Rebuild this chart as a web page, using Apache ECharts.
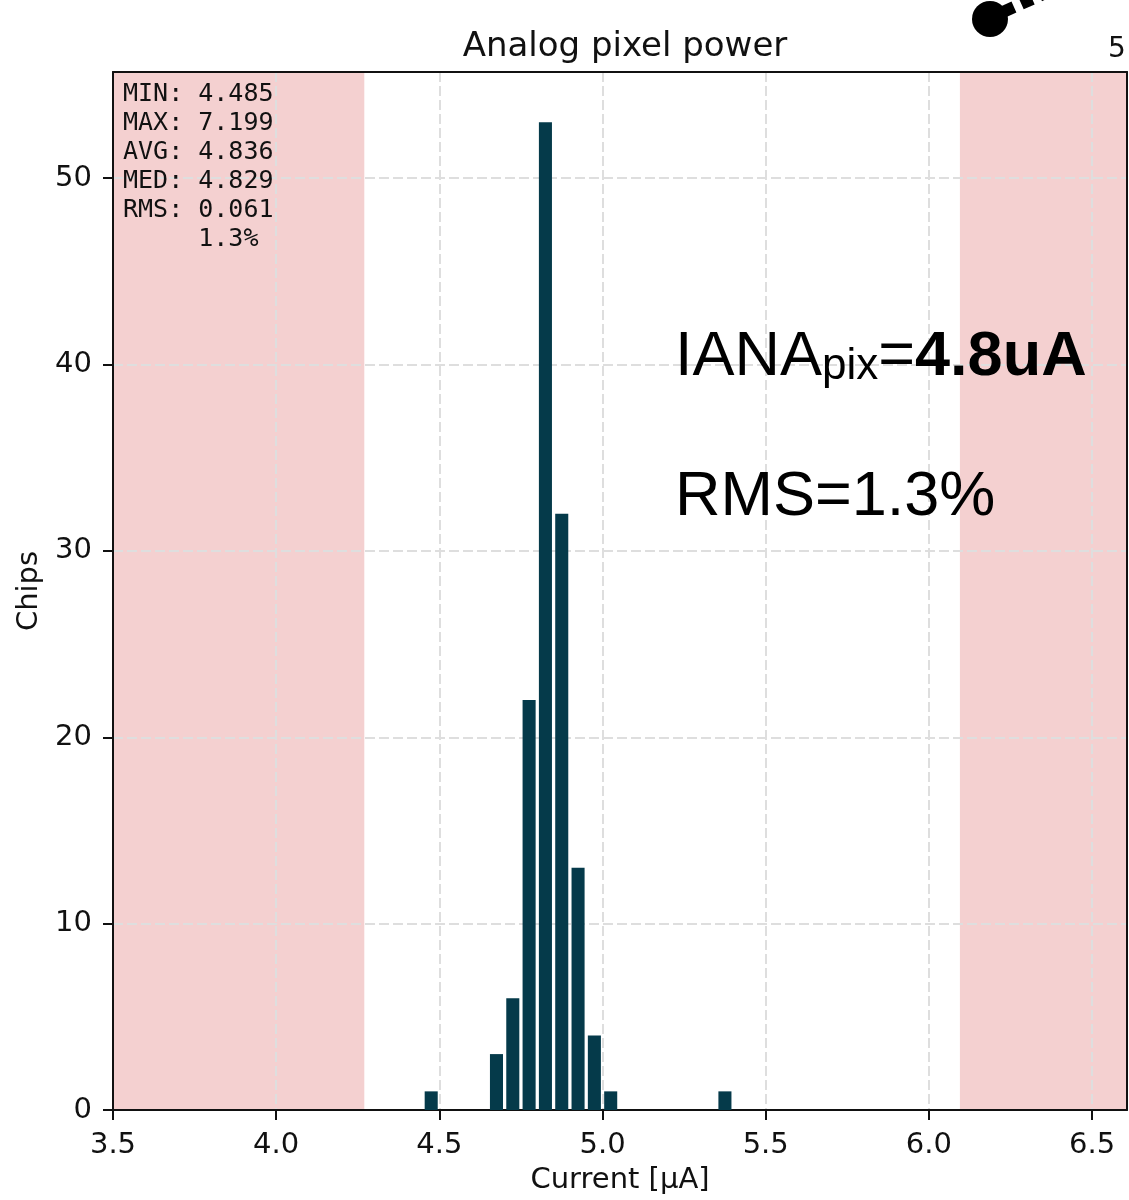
<!DOCTYPE html>
<html>
<head>
<meta charset="utf-8">
<script src="https://cdn.jsdelivr.net/npm/echarts@6/dist/echarts.min.js"></script>
<style>
	html, body { margin: 0; padding: 0; background: #fff; }
	#chart { width: 1129px; height: 1200px; }
</style>
</head>
<body>
<div id="chart"></div>
<script>
	// histogram bins (bin centre, chips)
	var binCenters = [4.475, 4.675, 4.725, 4.775, 4.825, 4.875, 4.925, 4.975, 5.025, 5.375];
	var binCounts = [1, 3, 6, 22, 53, 32, 13, 4, 1, 1];
	var barWidth = 0.04;
	// shaded out-of-spec regions
	var bandLimits = [[3.5, 4.27], [6.095, 6.607]];
	var statLines = ['MIN: 4.485', 'MAX: 7.199', 'AVG: 4.836', 'MED: 4.829', 'RMS: 0.061', '     1.3%'];
	var xMin = 3.5, xMax = 6.607, yMax = 55.7;

	var chart = echarts.init(document.getElementById('chart'));

	var barData = binCenters.map(function (c, i) { return [c, binCounts[i]]; });
	var dash = { show: true, showMaxLine: false, lineStyle: { color: '#dedede', type: [10, 4], width: 2 } };
	var frameAxis = { show: true, onZero: false, lineStyle: { color: '#111', width: 2 } };

	var option = {
		animation: false,
		title: {
			text: 'Analog pixel power',
			left: 620,
			top: 25,
			textAlign: 'center',
			textStyle: { fontFamily: 'DejaVu Sans', fontSize: 34, fontWeight: 'normal', color: '#111' }
		},
		grid: { left: 113, right: 2, top: 72, bottom: 88 },
		xAxis: [{
			type: 'value', min: xMin, max: xMax, interval: 0.5, z: 1,
			name: 'Current [μA]', nameLocation: 'middle', nameGap: 56,
			nameTextStyle: { fontFamily: 'DejaVu Sans', fontSize: 29, color: '#111' },
			axisLine: { show: true, onZero: false, lineStyle: { color: '#111', width: 2 } },
			axisTick: { show: true, length: 10, lineStyle: { color: '#111', width: 2 } },
			axisLabel: {
				fontFamily: 'DejaVu Sans', fontSize: 29, color: '#111', margin: 21, showMaxLabel: false,
				formatter: function (v) { return v.toFixed(1); }
			},
			splitLine: dash
		}, {
			type: 'value', min: xMin, max: xMax, position: 'top', z: 3,
			axisLine: frameAxis, axisTick: { show: false }, axisLabel: { show: false }, splitLine: { show: false }
		}],
		yAxis: [{
			type: 'value', min: 0, max: yMax, interval: 10, z: 1,
			name: 'Chips', nameLocation: 'middle', nameGap: 68, nameRotate: 90,
			nameTextStyle: { fontFamily: 'DejaVu Sans', fontSize: 29, color: '#111' },
			axisLine: { show: true, onZero: false, lineStyle: { color: '#111', width: 2 } },
			axisTick: { show: true, length: 10, lineStyle: { color: '#111', width: 2 } },
			axisLabel: { fontFamily: 'DejaVu Sans', fontSize: 29, color: '#111', margin: 21, showMaxLabel: false },
			splitLine: dash
		}, {
			type: 'value', min: 0, max: yMax, position: 'right', z: 3,
			axisLine: frameAxis, axisTick: { show: false }, axisLabel: { show: false }, splitLine: { show: false }
		}],
		series: [
			{
				type: 'custom',
				z: -1,
				silent: true,
				data: bandLimits,
				renderItem: function (params, api) {
					var p0 = api.coord([api.value(0), yMax]);
					var p1 = api.coord([api.value(1), 0]);
					return {
						type: 'rect',
						shape: { x: p0[0], y: p0[1], width: p1[0] - p0[0], height: p1[1] - p0[1] },
						style: { fill: '#f4d0d0' }
					};
				}
			},
			{
				type: 'custom',
				z: 2,
				data: barData,
				renderItem: function (params, api) {
					var c = api.value(0), h = api.value(1);
					var p0 = api.coord([c - barWidth / 2, h]);
					var p1 = api.coord([c + barWidth / 2, 0]);
					return {
						type: 'rect',
						shape: { x: p0[0], y: p0[1], width: p1[0] - p0[0], height: p1[1] - p0[1] },
						style: { fill: '#053a4a' }
					};
				}
			}
		],
		graphic: [
			{
				type: 'text', left: 123, top: 80, z: 10,
				style: {
					text: statLines.join('\n'),
					font: '25px "DejaVu Sans Mono"',
					lineHeight: 29,
					fill: '#111'
				}
			},
			{
				type: 'text', left: 675, top: 326, z: 10,
				style: {
					text: '{n|IANA}{s|pix}{n|=}{b|4.8uA}',
					rich: {
						n: { fontFamily: 'Liberation Sans', fontSize: 63, color: '#000', verticalAlign: 'bottom', lineHeight: 80 },
						s: { fontFamily: 'Liberation Sans', fontSize: 44, color: '#000', verticalAlign: 'bottom', lineHeight: 56 },
						b: { fontFamily: 'Liberation Sans', fontSize: 63, fontWeight: 'bold', color: '#000', verticalAlign: 'bottom', lineHeight: 80 }
					}
				}
			},
			{
				type: 'text', left: 675, top: 466, z: 10,
				style: { text: 'RMS=1.3%', font: '63px "Liberation Sans"', fill: '#000' }
			},
			{
				type: 'text', left: 1108, top: 36, z: 10,
				style: { text: '5', font: '28px "DejaVu Sans"', fill: '#111' }
			},
			{
				type: 'line', z: 10,
				shape: { x1: 1003, y1: 12, x2: 1070, y2: -18 },
				style: { stroke: '#000', lineWidth: 12, lineDash: [12, 8] }
			},
			{
				type: 'circle', z: 11,
				shape: { cx: 990, cy: 19, r: 18 },
				style: { fill: '#000' }
			}
		]
	};

	chart.setOption(option);
</script>
</body>
</html>
